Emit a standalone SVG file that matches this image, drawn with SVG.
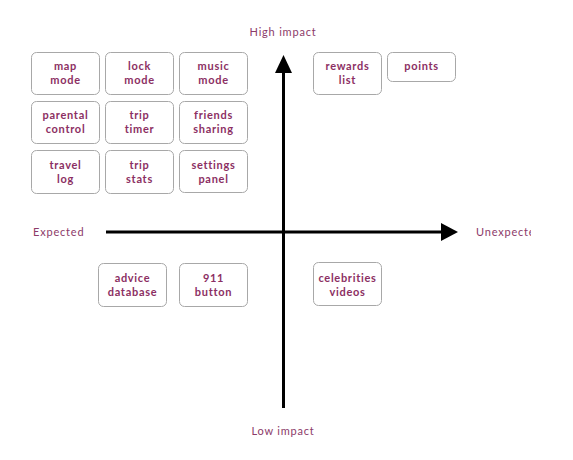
<svg xmlns="http://www.w3.org/2000/svg" width="573" height="460" viewBox="0 0 573 460">
<defs>
<style>
.box{fill:#fff;stroke:#a8a8a8;stroke-width:1}
.t{font-family:Lato,"Open Sans",sans-serif;font-size:11px;font-weight:700;fill:#8c2f63;text-anchor:middle;letter-spacing:0.7px}
.lbl{font-family:Lato,"Open Sans",sans-serif;font-size:11px;font-weight:400;fill:#8c3a69;letter-spacing:0.8px}
.ax{stroke:#000;stroke-width:3;fill:none}
</style>
<clipPath id="clipR"><rect x="0" y="0" width="531" height="460"/></clipPath>
</defs>
<rect width="573" height="460" fill="#fff"/>
<g id="connectors">
<line class="ax" x1="106" y1="232" x2="444" y2="232"/>
<polygon points="458,232 441,223 441,241" fill="#000"/>
<line class="ax" x1="283.5" y1="408" x2="283.5" y2="70"/>
<polygon points="283.5,55 275,73 292,73" fill="#000"/>
</g>
<g id="axis-labels">
<text class="lbl" x="283" y="36" text-anchor="middle">High impact</text>
<text class="lbl" x="283" y="435" text-anchor="middle">Low impact</text>
<text class="lbl" x="33" y="236">Expected</text>
<text class="lbl" x="476" y="236" clip-path="url(#clipR)">Unexpected</text>
</g>
<g id="map-mode"><rect class="box" x="31.5" y="52.5" width="68" height="42" rx="5"/><text class="t" x="65.5" y="70">map</text><text class="t" x="65.5" y="84">mode</text></g>
<g id="lock-mode"><rect class="box" x="105.5" y="52.5" width="68" height="42" rx="5"/><text class="t" x="139.5" y="70">lock</text><text class="t" x="139.5" y="84">mode</text></g>
<g id="music-mode"><rect class="box" x="179.5" y="52.5" width="68" height="42" rx="5"/><text class="t" x="213.5" y="70">music</text><text class="t" x="213.5" y="84">mode</text></g>
<g id="parental-control"><rect class="box" x="31.5" y="101.5" width="68" height="42" rx="5"/><text class="t" x="65.5" y="119">parental</text><text class="t" x="65.5" y="133">control</text></g>
<g id="trip-timer"><rect class="box" x="105.5" y="101.5" width="68" height="42" rx="5"/><text class="t" x="139.5" y="119">trip</text><text class="t" x="139.5" y="133">timer</text></g>
<g id="friends-sharing"><rect class="box" x="179.5" y="101.5" width="68" height="42" rx="5"/><text class="t" x="213.5" y="119">friends</text><text class="t" x="213.5" y="133">sharing</text></g>
<g id="travel-log"><rect class="box" x="31.5" y="150.5" width="68" height="43" rx="5"/><text class="t" x="65.5" y="168.5">travel</text><text class="t" x="65.5" y="182.5">log</text></g>
<g id="trip-stats"><rect class="box" x="105.5" y="150.5" width="68" height="43" rx="5"/><text class="t" x="139.5" y="168.5">trip</text><text class="t" x="139.5" y="182.5">stats</text></g>
<g id="settings-panel"><rect class="box" x="179.5" y="150.5" width="68" height="42" rx="5"/><text class="t" x="213.5" y="168.5">settings</text><text class="t" x="213.5" y="182.5">panel</text></g>
<g id="rewards-list"><rect class="box" x="313.5" y="52.5" width="68" height="42" rx="5"/><text class="t" x="347.5" y="70">rewards</text><text class="t" x="347.5" y="84">list</text></g>
<g id="points"><rect class="box" x="387.5" y="52.5" width="68" height="29" rx="5"/><text class="t" x="421.5" y="70">points</text></g>
<g id="advice-database"><rect class="box" x="98.5" y="263.5" width="68" height="43" rx="5"/><text class="t" x="132.5" y="282">advice</text><text class="t" x="132.5" y="296">database</text></g>
<g id="button-911"><rect class="box" x="179.5" y="263.5" width="68" height="43" rx="5"/><text class="t" x="213.5" y="282">911</text><text class="t" x="213.5" y="296">button</text></g>
<g id="celebrities-videos"><rect class="box" x="313.5" y="262.5" width="68" height="43" rx="5"/><text class="t" x="347.5" y="281.5">celebrities</text><text class="t" x="347.5" y="295.5">videos</text></g>
</svg>
